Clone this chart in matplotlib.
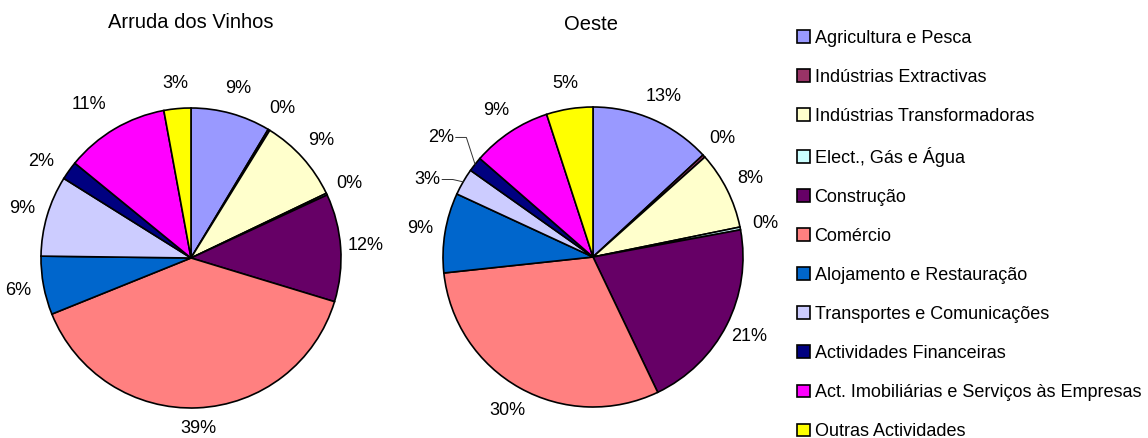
import matplotlib.pyplot as plt
import numpy as np

plt.rcParams['font.family'] = ['Liberation Sans', 'DejaVu Sans']

# Sectors of activity (share of companies, %)
sectors = ["Agricultura e Pesca", "Indústrias Extractivas", "Indústrias Transformadoras",
           "Elect., Gás e Água", "Construção", "Comércio", "Alojamento e Restauração",
           "Transportes e Comunicações", "Actividades Financeiras",
           "Act. Imobiliárias e Serviços às Empresas", "Outras Actividades"]
arruda = [8.6, 0.2, 9.1, 0.2, 11.6, 39.2, 6.3, 8.7, 2.0, 11.2, 2.9]
oeste = [13.1, 0.3, 8.4, 0.3, 20.8, 30.4, 8.6, 2.9, 1.6, 8.6, 5.0]

colors = ["#9999FF", "#993366", "#FFFFCC", "#CCFFFF", "#660066", "#FF8080",
          "#0066CC", "#CCCCFF", "#000080", "#FF00FF", "#FFFF00"]

W, H = 1148, 438
fig = plt.figure(figsize=(W / 100, H / 100), dpi=100)


def pie_axes(cx, cy, r):
    return fig.add_axes([(cx - r) / W, (H - cy - r) / H, 2 * r / W, 2 * r / H])


def draw_pie(ax, values):
    wedges, _, pcts = ax.pie(values, colors=colors, startangle=90, counterclock=False,
                             autopct=lambda p: "%.0f%%" % p, pctdistance=1.17,
                             wedgeprops=dict(edgecolor="black", linewidth=1.2),
                             textprops=dict(fontsize=13))
    ax.set_xlim(-1, 1)
    ax.set_ylim(-1, 1)
    return wedges, pcts


def place(wedges, pcts, idx, rad, dang=0):
    w = wedges[idx]
    ang = np.deg2rad((w.theta1 + w.theta2) / 2 + dang)
    pcts[idx].set_position((rad * np.cos(ang), rad * np.sin(ang)))


ax1 = pie_axes(191, 258, 150)
w1, p1 = draw_pie(ax1, arruda)
place(w1, p1, 5, 1.14)
place(w1, p1, 8, 1.19, 3)
place(w1, p1, 9, 1.23, 3)

ax2 = pie_axes(593, 257, 150)
w2, p2 = draw_pie(ax2, oeste)

# small slices on the Oeste pie get labels pulled out with leader lines
for idx, (rad, dang) in {7: (1.22, 5), 8: (1.29, 0)}.items():
    w = w2[idx]
    mid = np.deg2rad((w.theta1 + w.theta2) / 2)
    place(w2, p2, idx, rad, dang)
    tx, ty = p2[idx].get_position()
    ex, ey = np.cos(mid), np.sin(mid)
    ax2.plot([tx + 0.10, tx + 0.17, ex], [ty, ty, ey], color="#333333", lw=0.7,
             clip_on=False)

fig.text(191 / W, 1 - 22 / H, "Arruda dos Vinhos", ha="center", va="center", fontsize=14.5)
fig.text(591 / W, 1 - 24 / H, "Oeste", ha="center", va="center", fontsize=14.5)

fig.legend(w1, sectors, loc="upper left", bbox_to_anchor=(797 / W, 1 - 30 / H),
           frameon=False, fontsize=13, borderpad=0, borderaxespad=0,
           handlelength=0.72, handleheight=0.72, handletextpad=0.25,
           labelspacing=1.22)

fig.savefig("out.png", dpi=100)
